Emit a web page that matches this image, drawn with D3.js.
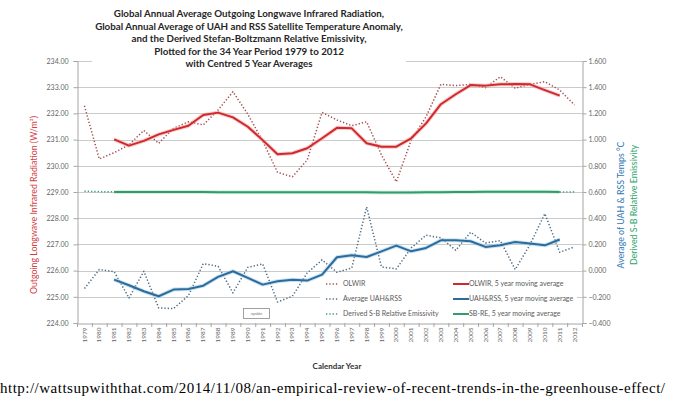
<!DOCTYPE html>
<html>
<head>
<meta charset="utf-8">
<script src="https://cdn.jsdelivr.net/npm/d3@7"></script>
<style>
	body { margin : 0; background : #fff; }
	svg { display : block; }
</style>
</head>
<body>
<div id="chart"></div>
<script>
const years = d3.range( 1979, 2013 ).map( String );

// OLWIR annual values (W/m2), left axis
const olwir = [232.29, 230.26, 230.50, 230.80, 231.35, 230.86, 231.43, 231.68, 231.56, 232.13,
			   232.83, 231.97, 230.95, 229.75, 229.58, 230.22, 232.04, 231.75, 231.53, 231.68,
			   230.41, 229.39, 230.98, 231.87, 233.11, 233.06, 233.11, 232.98, 233.40, 232.96,
			   233.11, 233.21, 232.89, 232.32];

// centred 5 year averages, 1981 - 2011
const avgYears = d3.range( 1981, 2012 ).map( String );

const olwirAvg = [231.01, 230.77, 230.95, 231.20, 231.37, 231.53, 231.94, 232.03, 231.85, 231.49,
				  230.98, 230.44, 230.48, 230.67, 231.05, 231.45, 231.43, 230.86, 230.73, 230.73,
				  231.05, 231.62, 232.35, 232.73, 233.08, 233.06, 233.11, 233.12, 233.11, 232.89,
				  232.68];

// UAH & RSS average anomaly (deg C), right axis
const uahRss = [-0.137, 0.008, -0.008, -0.209, -0.005, -0.285, -0.290, -0.191, 0.053, 0.033,
				-0.170, 0.025, 0.051, -0.239, -0.196, -0.018, 0.082, -0.013, 0.020, 0.486,
				0.028, 0.013, 0.173, 0.270, 0.250, 0.155, 0.293, 0.211, 0.229, 0.008,
				0.198, 0.435, 0.140, 0.181];

const uahRssAvg = [-0.069, -0.112, -0.158, -0.196, -0.145, -0.140, -0.115, -0.048, -0.005, -0.056,
				   -0.107, -0.081, -0.069, -0.076, -0.031, 0.102, 0.117, 0.104, 0.147, 0.191,
				   0.147, 0.173, 0.231, 0.231, 0.224, 0.181, 0.193, 0.219, 0.206, 0.193,
				   0.237];

// derived Stefan-Boltzmann relative emissivity, right axis
const sbre = [0.606, 0.603, 0.601, 0.600, 0.600, 0.601, 0.600, 0.600, 0.600, 0.599,
			  0.599, 0.599, 0.599, 0.599, 0.599, 0.598, 0.598, 0.598, 0.598, 0.597,
			  0.597, 0.597, 0.598, 0.599, 0.600, 0.600, 0.601, 0.601, 0.602, 0.601,
			  0.601, 0.600, 0.600, 0.601];

const sbreAvg = [0.600, 0.600, 0.600, 0.600, 0.600, 0.600, 0.600, 0.599, 0.599, 0.599,
				 0.599, 0.599, 0.599, 0.598, 0.598, 0.598, 0.598, 0.598, 0.597, 0.597,
				 0.597, 0.598, 0.599, 0.600, 0.600, 0.601, 0.601, 0.602, 0.601, 0.601,
				 0.600];

const leftTicks  = d3.range( 224, 234.5, 1 );
const rightTicks = d3.range( -0.4, 1.61, 0.2 );

const titleLines = ['Global Annual Average Outgoing Longwave Infrared Radiation,',
					'Global Annual Average of UAH and RSS Satellite Temperature Anomaly,',
					'and the Derived Stefan-Boltzmann Relative Emissivity,',
					'Plotted for the 34 Year Period 1979 to 2012',
					'with Centred 5 Year Averages'];

const legendItems = [
	{ name : 'OLWIR', color : '#a3504e', dash : true },
	{ name : 'OLWIR, 5 year moving average', color : '#d0282c', dash : false },
	{ name : 'Average UAH&RSS', color : '#4c6c84', dash : true },
	{ name : 'UAH&RSS, 5 year moving average', color : '#2b6c9c', dash : false },
	{ name : 'Derived S-B Relative Emissivity', color : '#3d9a8c', dash : true },
	{ name : 'SB-RE, 5 year moving average', color : '#2f9e6c', dash : false }
];

const width  = 683;
const height = 399;
const plot   = { left : 77, right : 582, top : 61, bottom : 323 };

const svg = d3.select( '#chart' )
			  .append( 'svg' )
			  .attr( 'width', width )
			  .attr( 'height', height )
			  .style( 'font-family', 'Lato, "Open Sans", sans-serif' );

const x = d3.scaleBand()
			.domain( years )
			.range( [plot.left, plot.right] );

const yL = d3.scaleLinear()
			 .domain( [224, 234] )
			 .range( [plot.bottom, plot.top] );

const yR = d3.scaleLinear()
			 .domain( [-0.4, 1.6] )
			 .range( [plot.bottom, plot.top] );

const cx = d => x( d ) + x.bandwidth() / 2;

// gridlines
svg.append( 'g' )
   .selectAll( 'line' )
   .data( leftTicks.slice( 1 ) )
   .enter()
   .append( 'line' )
   .attr( 'x1', plot.left )
   .attr( 'x2', plot.right )
   .attr( 'y1', d => Math.round( yL( d ) ) + 0.5 )
   .attr( 'y2', d => Math.round( yL( d ) ) + 0.5 )
   .attr( 'stroke', '#cbcbcb' )
   .attr( 'stroke-width', 1 );

// axes
const leftAxis = svg.append( 'g' )
					.attr( 'transform', `translate(${plot.left + 0.5},0)` )
					.call( d3.axisLeft( yL ).tickValues( leftTicks ).tickFormat( d3.format( '.2f' ) ).tickSize( 4 ) );

const rightAxis = svg.append( 'g' )
					 .attr( 'transform', `translate(${plot.right + 0.5},0)` )
					 .call( d3.axisRight( yR ).tickValues( rightTicks ).tickFormat( d3.format( '.3f' ) ).tickSize( 4 ) );

const bottomAxis = svg.append( 'g' )
					  .attr( 'transform', `translate(0,${plot.bottom + 0.5})` )
					  .call( d3.axisBottom( x ).tickSize( 0 ) );

[leftAxis, rightAxis, bottomAxis].forEach( a => {
	a.select( '.domain' ).attr( 'stroke', '#a6a6a6' );
	a.selectAll( '.tick line' ).attr( 'stroke', '#a6a6a6' );
	a.selectAll( 'text' )
	 .attr( 'fill', '#666' )
	 .attr( 'font-size', '7px' )
	 .attr( 'font-family', 'Lato, sans-serif' );
} );
leftAxis.selectAll( 'text' ).attr( 'x', -9 );
rightAxis.selectAll( 'text' ).attr( 'x', 6 );

bottomAxis.selectAll( 'text' )
		  .attr( 'transform', 'rotate(-90)' )
		  .attr( 'text-anchor', 'end' )
		  .attr( 'x', -4 )
		  .attr( 'y', 0 )
		  .attr( 'dy', '0.32em' )
		  .attr( 'font-size', '6.5px' );

// category boundary ticks on the x axis
svg.append( 'g' )
   .selectAll( 'line' )
   .data( years.concat( ['end'] ) )
   .enter()
   .append( 'line' )
   .attr( 'x1', ( d, i ) => plot.left + i * x.bandwidth() + 0.5 )
   .attr( 'x2', ( d, i ) => plot.left + i * x.bandwidth() + 0.5 )
   .attr( 'y1', plot.bottom )
   .attr( 'y2', plot.bottom + 4 )
   .attr( 'stroke', '#a6a6a6' );

// series
const lineL = d3.line().x( d => cx( d[0] ) ).y( d => yL( d[1] ) );
const lineR = d3.line().x( d => cx( d[0] ) ).y( d => yR( d[1] ) );

const series = svg.append( 'g' );

const drawLine = ( xs, vals, gen, color, dash, glow ) => {
	const pts = xs.map( ( d, i ) => [d, vals[i]] );
	if ( glow ) {
		series.append( 'path' )
			  .attr( 'd', gen( pts ) )
			  .attr( 'fill', 'none' )
			  .attr( 'stroke', glow )
			  .attr( 'stroke-width', 4 )
			  .attr( 'stroke-linejoin', 'round' )
			  .attr( 'opacity', 0.55 );
	}
	series.append( 'path' )
		  .attr( 'd', gen( pts ) )
		  .attr( 'fill', 'none' )
		  .attr( 'stroke', color )
		  .attr( 'stroke-width', dash ? 1.5 : 2 )
		  .attr( 'stroke-dasharray', dash ? '1.3,2' : null )
		  .attr( 'stroke-linejoin', 'round' );
};

drawLine( years, sbre, lineR, legendItems[4].color, true, null );
drawLine( avgYears, sbreAvg, lineR, legendItems[5].color, false, '#b8e0c8' );
drawLine( years, olwir, lineL, legendItems[0].color, true, null );
drawLine( avgYears, olwirAvg, lineL, legendItems[1].color, false, '#f3a8a8' );
drawLine( years, uahRss, lineR, legendItems[2].color, true, null );
drawLine( avgYears, uahRssAvg, lineR, legendItems[3].color, false, '#9fcbe8' );

// legend
const legend = svg.append( 'g' );

legend.append( 'rect' )
	  .attr( 'x', 320 )
	  .attr( 'y', 277 )
	  .attr( 'width', 257 )
	  .attr( 'height', 44 )
	  .attr( 'fill', '#fff' );

const legendRow = legend.selectAll( 'g' )
						.data( legendItems )
						.enter()
						.append( 'g' )
						.attr( 'transform', ( d, i ) => `translate(${i % 2 ? 453 : 326},${284 + Math.floor( i / 2 ) * 15})` );

legendRow.append( 'line' )
		 .attr( 'x1', 0 )
		 .attr( 'x2', d => d.dash ? 12 : 16 )
		 .attr( 'stroke', d => d.color )
		 .attr( 'stroke-width', d => d.dash ? 1.5 : 2 )
		 .attr( 'stroke-dasharray', d => d.dash ? '1.3,2' : null );

legendRow.append( 'text' )
		 .attr( 'x', d => d.dash ? 17 : 16 )
		 .attr( 'dy', '0.35em' )
		 .attr( 'font-size', '7px' )
		 .attr( 'fill', '#5a5a5a' )
		 .text( d => d.name );

// small stray label box
svg.append( 'rect' )
   .attr( 'x', 243.5 )
   .attr( 'y', 308.5 )
   .attr( 'width', 26 )
   .attr( 'height', 10 )
   .attr( 'fill', '#fff' )
   .attr( 'stroke', '#8a8a8a' )
   .attr( 'stroke-width', 0.8 );

svg.append( 'text' )
   .attr( 'x', 256.5 )
   .attr( 'y', 315 )
   .attr( 'text-anchor', 'middle' )
   .attr( 'font-size', '4px' )
   .attr( 'fill', '#777' )
   .text( 'npsbin' );

// title
svg.append( 'rect' )
   .attr( 'x', 92 )
   .attr( 'y', 4 )
   .attr( 'width', 314 )
   .attr( 'height', 66 )
   .attr( 'fill', '#fff' );

const title = svg.append( 'g' )
				 .attr( 'font-weight', 'bold' )
				 .attr( 'fill', '#262626' )
				 .attr( 'text-anchor', 'middle' );

title.selectAll( 'text' )
	 .data( titleLines )
	 .enter()
	 .append( 'text' )
	 .attr( 'x', 249 )
	 .attr( 'y', ( d, i ) => 17 + i * 12.5 )
	 .attr( 'font-size', '9px' )
	 .text( d => d );

// fit the title to its width in the picture
const widest = title.selectAll( 'text' ).nodes()[1].getComputedTextLength();
title.selectAll( 'text' ).attr( 'font-size', `${9 * 308 / widest}px` );

// axis titles
svg.append( 'text' )
   .attr( 'transform', 'translate(37,205) rotate(-90)' )
   .attr( 'text-anchor', 'middle' )
   .attr( 'font-size', '8.8px' )
   .attr( 'fill', '#d2403f' )
   .text( 'Outgoing Longwave Infrared Radiation (W/m²)' );

svg.append( 'text' )
   .attr( 'transform', 'translate(624,205) rotate(-90)' )
   .attr( 'text-anchor', 'middle' )
   .attr( 'font-size', '8.8px' )
   .attr( 'fill', '#2f77b4' )
   .text( 'Average of UAH & RSS Temps °C' );

svg.append( 'text' )
   .attr( 'transform', 'translate(637,205) rotate(-90)' )
   .attr( 'text-anchor', 'middle' )
   .attr( 'font-size', '8.8px' )
   .attr( 'fill', '#2ea36b' )
   .text( 'Derived S-B Relative Emissivity' );

svg.append( 'text' )
   .attr( 'x', 337 )
   .attr( 'y', 369 )
   .attr( 'text-anchor', 'middle' )
   .attr( 'font-size', '8px' )
   .attr( 'font-weight', 'bold' )
   .attr( 'fill', '#333' )
   .text( 'Calendar Year' );

// source url under the chart
svg.append( 'text' )
   .attr( 'x', 0 )
   .attr( 'y', 393 )
   .attr( 'font-family', '"Liberation Serif", "DejaVu Serif", serif' )
   .attr( 'font-size', '15px' )
   .attr( 'fill', '#000' )
   .attr( 'textLength', 665 )
   .attr( 'lengthAdjust', 'spacing' )
   .text( 'http://wattsupwiththat.com/2014/11/08/an-empirical-review-of-recent-trends-in-the-greenhouse-effect/' );
</script>
</body>
</html>
